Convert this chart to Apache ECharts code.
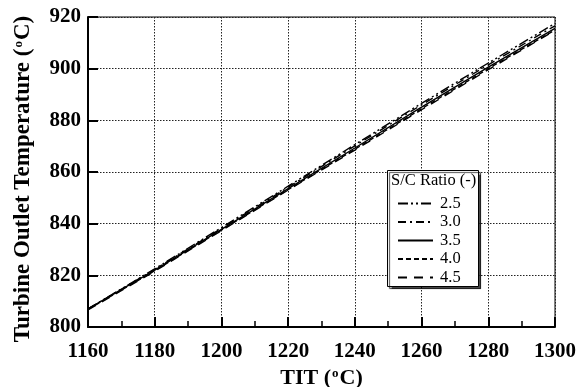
<!DOCTYPE html>
<html>
<head>
<meta charset="utf-8">
<script src="https://cdn.jsdelivr.net/npm/echarts@6/dist/echarts.min.js"></script>
<style>
  html, body { margin: 0; padding: 0; background: #fff; }
  #chart { width: 578px; height: 387px; }
</style>
</head>
<body>
<div id="chart"></div>
<script>
// TIT values (x axis)
const tit = [1160, 1180, 1200, 1220, 1240, 1260, 1280, 1300];
const ratioNames = ['2.5', '3.0', '3.5', '4.0', '4.5'];
// turbine outlet temperature for each S/C ratio
const tot25 = [807.0, 822.5, 838.5, 854.5, 870.6, 886.6, 902.2, 917.5];
const tot30 = [807.0, 822.3, 838.2, 854.1, 870.1, 886.0, 901.5, 916.6];
const tot35 = [807.0, 822.0, 837.8, 853.6, 869.3, 885.1, 900.6, 915.6];
const tot40 = [806.8, 821.8, 837.5, 853.2, 868.8, 884.5, 900.0, 915.0];
const tot45 = [806.6, 821.6, 837.3, 853.0, 868.5, 884.1, 899.6, 914.8];
const dashList = [[10, 3, 2, 3, 2, 3], [8, 4, 2, 4], 'solid', [5, 3], [9, 7]];

const font = 'Liberation Serif, Times New Roman, serif';
const chart = echarts.init(document.getElementById('chart'));

const allSeries = [tot25, tot30, tot35, tot40, tot45].map((vals, i) => {
  return {
    name: ratioNames[i],
    type: 'line',
    symbol: 'none',
    data: vals.map((v, k) => [tit[k], v]),
    lineStyle: { color: '#000', width: 1.4, type: dashList[i] },
    itemStyle: { color: '#000' },
    z: 3
  };
});

function titleRich(size) {
  return {
    b: { fontFamily: font, fontWeight: 'bold', fontSize: size, color: '#000' },
    s: { fontFamily: font, fontWeight: 'bold', fontSize: 13, color: '#000', verticalAlign: 'top', padding: [0, 1, 10, 1] }
  };
}

chart.setOption({
  animation: false,
  grid: {
    left: 88, right: 23, top: 17, bottom: 60,
    containLabel: false, outerBoundsMode: 'none',
    show: true, borderColor: '#000', borderWidth: 1
  },
  legend: {
    data: ratioNames,
    orient: 'vertical',
    left: 392, top: 190,
    itemWidth: 35, itemHeight: 10, itemGap: 1.5,
    itemStyle: { opacity: 0 },
    textStyle: { fontFamily: font, fontSize: 16.5, color: '#000', padding: [0, 0, 0, 2] },
    z: 10
  },
  graphic: [
    {
      type: 'rect', left: 387, top: 170, z: 5,
      shape: { width: 91, height: 116 },
      style: { fill: '#fff', stroke: '#000', lineWidth: 1,
        shadowColor: 'rgba(0,0,0,0.7)', shadowOffsetX: 2, shadowOffsetY: 2, shadowBlur: 1 }
    },
    {
      type: 'text', left: 391, top: 172, z: 6,
      style: { text: 'S/C Ratio (-)', font: '16.5px ' + font, fill: '#000' }
    }
  ],
  xAxis: {
    type: 'value', min: 1160, max: 1300, interval: 20,
    name: '{b|TIT (}{s|o}{b|C)}', nameLocation: 'middle', nameGap: 36,
    nameTextStyle: { rich: titleRich(22) },
    axisLine: { lineStyle: { color: '#000', width: 2 } },
    axisTick: { inside: true, length: 10, lineStyle: { color: '#000', width: 2 } },
    minorTick: { show: true, splitNumber: 2, length: 6, lineStyle: { color: '#000', width: 1.5 } },
    axisLabel: { fontFamily: font, fontWeight: 'bold', fontSize: 21, color: '#000', margin: 14,
      formatter: v => String(v) },
    splitLine: { show: true, lineStyle: { color: '#222', type: [1.5, 1.5], width: 1 } }
  },
  yAxis: {
    type: 'value', min: 800, max: 920, interval: 20,
    name: '{b|Turbine Outlet Temperature (}{s|o}{b|C)}', nameLocation: 'middle', nameGap: 53,
    nameTextStyle: { rich: titleRich(23), padding: [0, 14, 0, 0] },
    axisLine: { lineStyle: { color: '#000', width: 2 } },
    axisTick: { inside: true, length: 10, lineStyle: { color: '#000', width: 2 } },
    axisLabel: { fontFamily: font, fontWeight: 'bold', fontSize: 21, color: '#000', margin: 7,
      formatter: v => String(v) },
    splitLine: { show: true, lineStyle: { color: '#222', type: [1.5, 1.5], width: 1 } }
  },
  series: allSeries
});
</script>
</body>
</html>
